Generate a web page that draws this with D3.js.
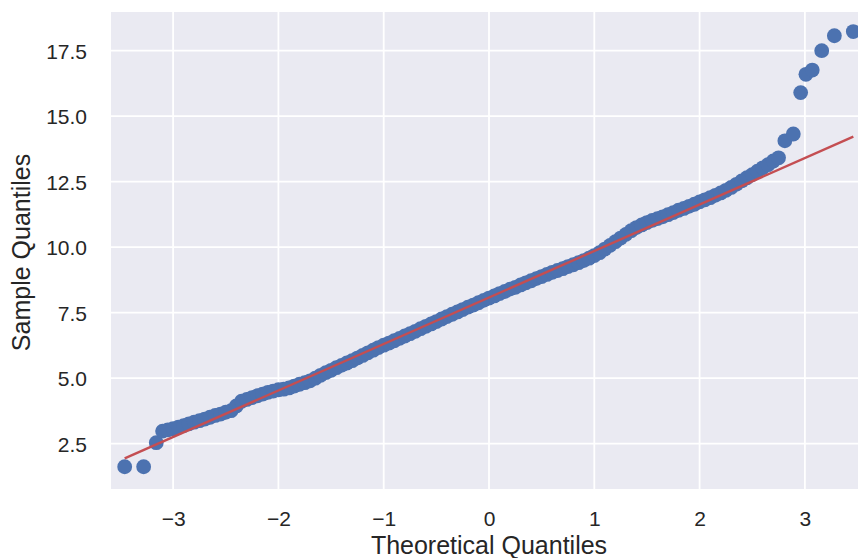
<!DOCTYPE html>
<html>
<head>
<meta charset="utf-8">
<script src="https://cdn.jsdelivr.net/npm/d3@7"></script>
<style>
  html, body { margin: 0; padding: 0; background: #ffffff; }
  svg { display: block; }
  text { font-family: "Liberation Sans", Arial, sans-serif; fill: #262626; }
</style>
</head>
<body>
<svg id="chart" width="858" height="558"></svg>
<script>
// Normal Q-Q plot: sorted sample values against theoretical normal quantiles
const theoreticalQuantiles = [
  -3.46, -3.28, -3.16,
  -3.10, -3.05, -3.00, -2.95, -2.90, -2.85, -2.80, -2.75, -2.70, -2.65,
  -2.60, -2.55, -2.50, -2.45, -2.40, -2.35, -2.30, -2.25, -2.20, -2.15,
  -2.10, -2.05, -2.00, -1.95, -1.90, -1.85, -1.80, -1.75, -1.70, -1.65,
  -1.60, -1.55, -1.50, -1.45, -1.40, -1.35, -1.30, -1.25, -1.20, -1.15,
  -1.10, -1.05, -1.00, -0.95, -0.90, -0.85, -0.80, -0.75, -0.70, -0.65,
  -0.60, -0.55, -0.50, -0.45, -0.40, -0.35, -0.30, -0.25, -0.20, -0.15,
  -0.10, -0.05, 0.00, 0.05, 0.10, 0.15, 0.20, 0.25, 0.30, 0.35,
  0.40, 0.45, 0.50, 0.55, 0.60, 0.65, 0.70, 0.75, 0.80, 0.85,
  0.90, 0.95, 1.00, 1.05, 1.10, 1.15, 1.20, 1.25, 1.30, 1.35,
  1.40, 1.45, 1.50, 1.55, 1.60, 1.65, 1.70, 1.75, 1.80, 1.85,
  1.90, 1.95, 2.00, 2.05, 2.10, 2.15, 2.20, 2.25, 2.30, 2.35,
  2.40, 2.45, 2.50, 2.55, 2.60, 2.65, 2.70, 2.75,
  2.81, 2.89, 2.96, 3.01, 3.07, 3.16, 3.28, 3.46
];

const sampleQuantiles = [
  1.62, 1.62, 2.54,
  2.98, 3.03, 3.07, 3.13, 3.19, 3.26, 3.32, 3.38, 3.44, 3.51,
  3.58, 3.63, 3.70, 3.76, 3.94, 4.12, 4.19, 4.26, 4.33, 4.39,
  4.46, 4.51, 4.56, 4.58, 4.63, 4.70, 4.77, 4.83, 4.90, 5.00,
  5.11, 5.21, 5.30, 5.40, 5.49, 5.58, 5.67, 5.77, 5.87, 5.97,
  6.07, 6.17, 6.26, 6.34, 6.43, 6.52, 6.61, 6.70, 6.79, 6.89,
  6.98, 7.07, 7.16, 7.26, 7.35, 7.44, 7.53, 7.62, 7.71, 7.79,
  7.88, 7.97, 8.06, 8.14, 8.23, 8.31, 8.40, 8.47, 8.56, 8.64,
  8.72, 8.80, 8.88, 8.96, 9.04, 9.11, 9.18, 9.26, 9.33, 9.41,
  9.49, 9.58, 9.68, 9.79, 9.93, 10.07, 10.21, 10.35, 10.49, 10.63,
  10.75, 10.85, 10.94, 11.02, 11.09, 11.16, 11.24, 11.32, 11.41, 11.48,
  11.56, 11.64, 11.73, 11.81, 11.89, 11.98, 12.07, 12.17, 12.28, 12.40,
  12.53, 12.65, 12.77, 12.90, 13.03, 13.15, 13.29, 13.41,
  14.06, 14.32, 15.90, 16.60, 16.76, 17.50, 18.07, 18.23
];

// Standardized reference line (mean + std * z), endpoints at the extreme quantiles
const referenceLine = [
  { x: -3.46, y: 1.94 },
  { x: 3.46, y: 14.22 }
];

const xTickValues = [-3, -2, -1, 0, 1, 2, 3];
const yTickValues = [2.5, 5.0, 7.5, 10.0, 12.5, 15.0, 17.5];
const xAxisTitle = "Theoretical Quantiles";
const yAxisTitle = "Sample Quantiles";

const points = theoreticalQuantiles.map((q, i) => ({ x: q, y: sampleQuantiles[i] }));

const svg = d3.select("#chart");
const plot = { left: 111, top: 12, right: 867, bottom: 489 };

const x = d3.scaleLinear().domain([-3.59, 3.59]).range([plot.left, plot.right]);
const y = d3.scaleLinear().domain([0.771, 18.977]).range([plot.bottom, plot.top]);

svg.append("rect")
  .attr("x", plot.left).attr("y", plot.top)
  .attr("width", plot.right - plot.left).attr("height", plot.bottom - plot.top)
  .attr("fill", "#EAEAF2");

// grid lines
const grid = svg.append("g");
grid.selectAll("line.vx").data(xTickValues).join("line")
  .attr("x1", d => x(d)).attr("x2", d => x(d))
  .attr("y1", plot.top).attr("y2", plot.bottom)
  .attr("stroke", "#ffffff").attr("stroke-width", 1.8);
grid.selectAll("line.hy").data(yTickValues).join("line")
  .attr("y1", d => y(d)).attr("y2", d => y(d))
  .attr("x1", plot.left).attr("x2", plot.right)
  .attr("stroke", "#ffffff").attr("stroke-width", 1.8);

// axes (labels only, no tick marks or spines)
const minus = s => s.replace("-", "\u2212");
const xAxis = d3.axisBottom(x).tickValues(xTickValues).tickSize(0).tickPadding(0)
  .tickFormat(d => minus(d3.format("d")(d)));
const gx = svg.append("g").attr("transform", `translate(0,${plot.bottom})`).call(xAxis);
gx.select(".domain").remove();
gx.selectAll("text")
  .attr("dy", null).attr("y", 37)
  .style("font-size", "21px").attr("fill", "#262626");

const yAxis = d3.axisLeft(y).tickValues(yTickValues).tickSize(0).tickPadding(0)
  .tickFormat(d3.format(".1f"));
const gy = svg.append("g").attr("transform", `translate(${plot.left},0)`).call(yAxis);
gy.select(".domain").remove();
gy.selectAll("text")
  .attr("x", -24).attr("dy", "0.36em")
  .style("font-size", "21px").attr("fill", "#262626");

// sample points
svg.append("clipPath").attr("id", "plotClip")
  .append("rect")
  .attr("x", plot.left).attr("y", plot.top)
  .attr("width", plot.right - plot.left).attr("height", plot.bottom - plot.top);

const body = svg.append("g").attr("clip-path", "url(#plotClip)");
body.selectAll("circle").data(points).join("circle")
  .attr("cx", d => x(d.x)).attr("cy", d => y(d.y))
  .attr("r", 7.4)
  .attr("fill", "#4C72B0");

// reference line
body.append("path")
  .datum(referenceLine)
  .attr("d", d3.line().x(d => x(d.x)).y(d => y(d.y)))
  .attr("fill", "none")
  .attr("stroke", "#C44E52")
  .attr("stroke-width", 2.4);

// axis titles
svg.append("text")
  .attr("x", (plot.left + plot.right) / 2).attr("y", 554)
  .attr("text-anchor", "middle")
  .style("font-size", "25px")
  .text(xAxisTitle);

svg.append("text")
  .attr("transform", `translate(29.5,${(plot.top + plot.bottom) / 2 + 2}) rotate(-90)`)
  .attr("text-anchor", "middle")
  .style("font-size", "25px")
  .text(yAxisTitle);
</script>
</body>
</html>
